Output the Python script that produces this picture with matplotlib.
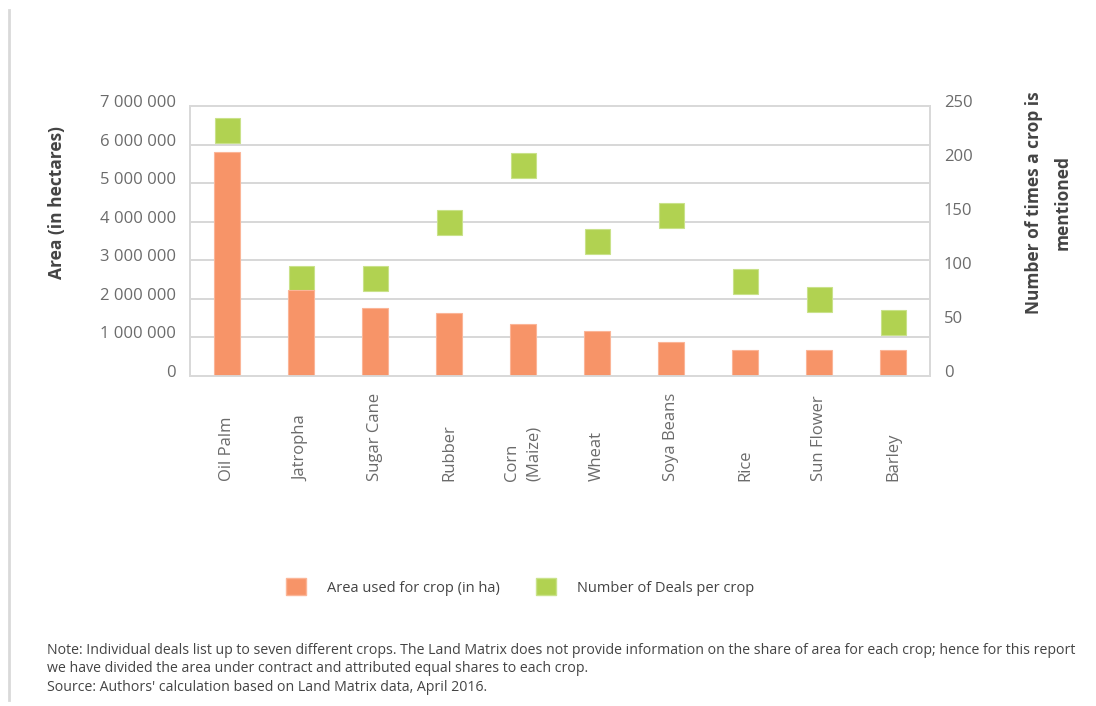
import matplotlib.pyplot as plt
from matplotlib.patches import Patch
from matplotlib.lines import Line2D
from matplotlib.ticker import FixedLocator, FuncFormatter
import matplotlib.transforms as mtransforms

# crops, area in hectares (left axis) and number of deals (right axis)
crops = ["Oil Palm", "Jatropha", "Sugar Cane", "Rubber", "Corn\n(Maize)",
         "Wheat", "Soya Beans", "Rice", "Sun Flower", "Barley"]
area_ha = [5800000, 2220000, 1770000, 1630000, 1345000,
           1160000, 880000, 680000, 680000, 680000]
deals = [228, 91, 91, 143, 195, 125, 149, 88, 71, 50]

area_ticks = [0, 1000000, 2000000, 3000000, 4000000, 5000000, 6000000, 7000000]
deal_ticks = [0, 50, 100, 150, 200, 250]

ORANGE = "#f79468"
GREEN = "#b1d251"
TICK_GREY = "#6b6b6b"
LABEL_GREY = "#444444"
GRID_GREY = "#d4d4d4"

plt.rcParams["font.family"] = ["Open Sans", "DejaVu Sans"]

W, H = 1096, 706
fig = plt.figure(figsize=(W / 100, H / 100), dpi=100)

left, right, top, bottom = 190, 930, 106, 376
ax = fig.add_axes([left / W, 1 - bottom / H, (right - left) / W, (bottom - top) / H])
ax2 = ax.twinx()

# bars on top of the deal markers, gridlines underneath both
ax.set_zorder(2)
ax.patch.set_visible(False)
ax2.set_zorder(1)

x = list(range(len(crops)))
ax.bar(x, area_ha, width=0.35, color=ORANGE, edgecolor="#fbb597", linewidth=0.8)
ax2.plot(x, deals, linestyle="none", marker="s", markersize=18.0,
         markerfacecolor=GREEN, markeredgecolor="#c9e28a", markeredgewidth=0.8)

ax.set_xlim(-0.5, len(crops) - 0.5)
ax.set_ylim(0, 7000000)
ax2.set_ylim(0, 250)

ax.set_yticks(area_ticks)
ax.yaxis.set_major_formatter(FuncFormatter(lambda v, p: f"{int(v):,}".replace(",", " ")))
ax2.set_yticks(deal_ticks)

# horizontal gridlines at the left axis ticks, drawn on the right axis
ratio = 250 / 7000000
ax2.yaxis.set_minor_locator(FixedLocator([t * ratio for t in area_ticks]))
ax2.grid(which="minor", axis="y", color=GRID_GREY, linewidth=1.3)
ax2.tick_params(which="minor", length=0)

ax.set_xticks([])
ax.tick_params(axis="y", length=0, pad=10, labelsize=12, labelcolor=TICK_GREY)
ax2.tick_params(axis="y", which="major", length=0, pad=10, labelsize=12, labelcolor=TICK_GREY)

# value labels sit a little above their gridline
lift = mtransforms.ScaledTranslation(0, 5 / 100, fig.dpi_scale_trans)
for lab in ax.get_yticklabels() + ax2.get_yticklabels():
    lab.set_transform(lab.get_transform() + lift)

for a in (ax, ax2):
    for s in a.spines.values():
        s.set_color("#d9d9d9")
        s.set_linewidth(1.3)

# category labels, rotated and aligned on their start
trans = mtransforms.blended_transform_factory(ax.transData, ax.transAxes)
label_base = -(481 - bottom) / (bottom - top)
for i, name in enumerate(crops):
    ax.text(i, label_base, name, transform=trans, rotation=90,
            ha="center", va="bottom", multialignment="left", linespacing=1.55,
            fontsize=12, color=TICK_GREY)

# axis titles
fig.text(57 / W, 1 - 202 / H, "Area (in hectares)", rotation=90, ha="center",
         va="center", fontsize=12.5, fontweight="bold", color=LABEL_GREY)
fig.text(1048 / W, 1 - 203 / H, "Number of times a crop is\nmentioned", rotation=90,
         ha="center", va="center", multialignment="center", linespacing=1.75,
         fontsize=12.5, fontweight="bold", color=LABEL_GREY)

# legend
handles = [Patch(facecolor=ORANGE, edgecolor="#fbb597", label="Area used for crop (in ha)"),
           Patch(facecolor=GREEN, edgecolor="#c9e28a", label="Number of Deals per crop")]
fig.legend(handles=handles, loc="center", bbox_to_anchor=(520 / W, 1 - 587 / H),
           ncol=2, frameon=False, fontsize=10.5, handlelength=1.37, handleheight=1.37,
           handletextpad=1.44, columnspacing=2.5, labelcolor=LABEL_GREY)

note = ("Note: Individual deals list up to seven different crops. The Land Matrix does not provide "
        "information on the share of area for each crop; hence for this report\n"
        "we have divided the area under contract and attributed equal shares to each crop.\n"
        "Source: Authors' calculation based on Land Matrix data, April 2016.")
fig.text(47 / W, 1 - 643 / H, note, ha="left", va="top", fontsize=10.2,
         color=LABEL_GREY, linespacing=1.3)

# thin rule down the left edge
fig.add_artist(Line2D([9 / W, 9 / W], [1 - 10 / H, 1 - 700 / H], color="#d9d9d9",
                      linewidth=2, transform=fig.transFigure))

fig.savefig("out.png", dpi=100)
